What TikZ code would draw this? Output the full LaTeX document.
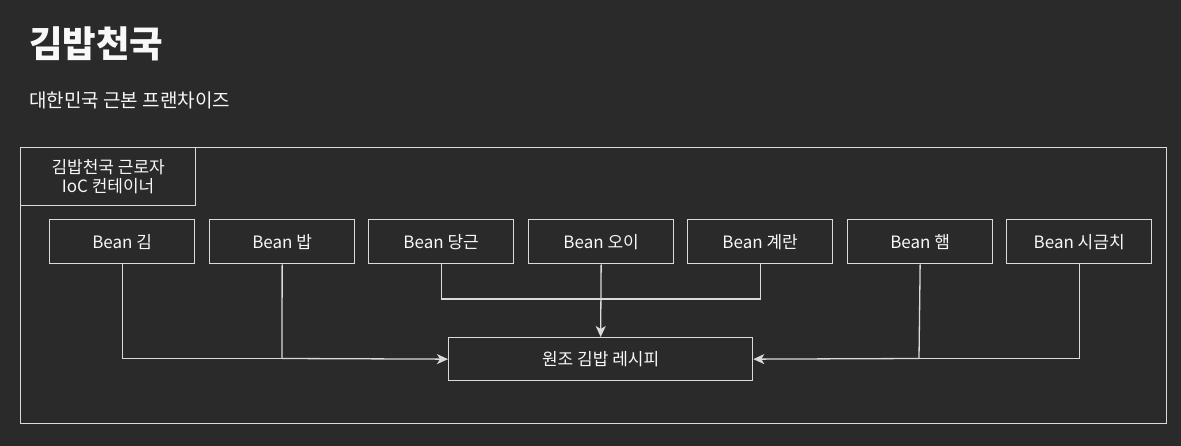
\documentclass[tikz,border=0pt]{standalone}
\usepackage{fontspec}
\setmainfont{Noto Sans CJK KR}
\usetikzlibrary{arrows.meta}
\definecolor{bgc}{HTML}{2A2A2A}
\definecolor{linec}{HTML}{DADADA}
\definecolor{txtc}{HTML}{F8F8F8}
\tikzset{
  box/.style={draw=linec, line width=1.3pt, fill=bgc, text=txtc, font=\fontsize{17}{20}\selectfont, inner sep=0pt, anchor=north west},
  bean/.style={box, font=\fontsize{17}{20}\selectfont, minimum width=145pt, minimum height=44pt},
  conn/.style={draw=linec, line width=1.3pt},
  arr/.style={conn, -{Stealth[length=11pt, width=10pt, inset=3pt]}}
}
\begin{document}
\begin{tikzpicture}[x=1pt,y=-1pt]
\fill[bgc] (0,0) rectangle (1181,446);
\useasboundingbox (0,0) rectangle (1181,446);
\node[anchor=west, text=txtc, font=\fontsize{36.5}{42}\selectfont\bfseries, inner sep=0pt] (title) at (29,44) {김밥천국};
\node[anchor=west, text=txtc, font=\fontsize{19}{22}\selectfont, inner sep=0pt] (sub) at (29,100) {대한민국 근본 프랜차이즈};
\node[box, minimum width=1146pt, minimum height=276pt] (frame) at (20,147) {};
\node[box, minimum width=175pt, minimum height=58pt, align=center] (lbl) at (20,147) {김밥천국 근로자\\[-1pt]IoC 컨테이너};
\node[bean] (b1) at (49,219) {Bean 김};
\node[bean] (b2) at (209,219) {Bean 밥};
\node[bean] (b3) at (368,219) {Bean 당근};
\node[bean] (b4) at (528,219) {Bean 오이};
\node[bean] (b5) at (687,219) {Bean 계란};
\node[bean] (b6) at (847,219) {Bean 햄};
\node[bean] (b7) at (1006,219) {Bean 시금치};
\node[box, minimum width=304pt, minimum height=43pt] (rec) at (448,337) {원조 김밥 레시피};
\coordinate (jl) at (282,358.5);
\coordinate (jr) at (919,358.5);
\coordinate (jm) at (600,299);
\draw[conn] (b1.south) |- (jl);
\draw[conn] (b2.south) -- (jl);
\draw[arr] (jl) -- (rec.west);
\draw[conn] (b3.south) |- (jm);
\draw[conn] (b5.south) |- (jm);
\draw[arr] (b4.south) -- (rec.north);
\draw[conn] (b7.south) |- (jr);
\draw[conn] (b6.south) -- (jr);
\draw[arr] (jr) -- (rec.east);
\end{tikzpicture}
\end{document}
